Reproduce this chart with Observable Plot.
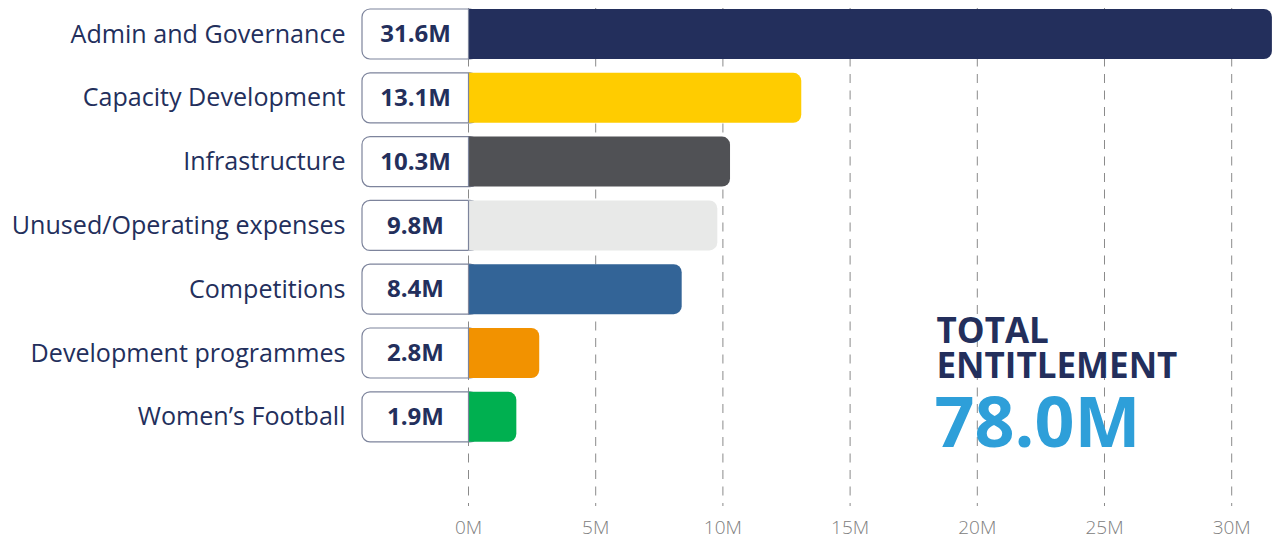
<!DOCTYPE html>
<html>
<head>
<meta charset="utf-8">
<script src="https://cdn.jsdelivr.net/npm/d3@7"></script>
<script src="https://cdn.jsdelivr.net/npm/@observablehq/plot@0.6"></script>
<style>
  html, body { margin: 0; padding: 0; background: #ffffff; }
  #chart { width: 1280px; height: 541px; overflow: hidden; }
  svg { font-family: "Open Sans", sans-serif; }
</style>
</head>
<body>
<div id="chart"></div>
<script>
const categories = [
  "Admin and Governance",
  "Capacity Development",
  "Infrastructure",
  "Unused/Operating expenses",
  "Competitions",
  "Development programmes",
  "Women\u2019s Football"
];
const values = [31.6, 13.1, 10.3, 9.8, 8.4, 2.8, 1.9];
const valueLabels = ["31.6M", "13.1M", "10.3M", "9.8M", "8.4M", "2.8M", "1.9M"];
const colors = ["#232f5c", "#ffcc00", "#505155", "#e8e9e8", "#336497", "#f29200", "#00b050"];
const xTicks = [0, 5, 10, 15, 20, 25, 30];
const totalTitle = ["TOTAL", "ENTITLEMENT"];
const totalValue = "78.0M";

const data = categories.map((c, i) => ({
  category: c, value: values[i], label: valueLabels[i], color: colors[i]
}));

const navy = "#232f5c";
const boxStroke = "#7d849c";

const chart = Plot.plot({
  width: 1280,
  height: 541,
  marginLeft: 468,
  marginRight: 8.1,
  marginTop: 8,
  marginBottom: 35,
  style: { fontFamily: "Open Sans, sans-serif", background: "#ffffff" },
  x: { domain: [0, 31.6], axis: null, label: null },
  y: {
    domain: categories,
    range: [2.1, 448.7],
    paddingInner: 0.216,
    paddingOuter: 0.108,
    round: false,
    axis: null,
    label: null
  },
  marks: [
    // dashed grid
    Plot.ruleX(xTicks, { x: d => d, stroke: "#8a8a8a", strokeWidth: 1, strokeDasharray: "9,7.5" }),
    // x tick labels
    Plot.axisX({
      ticks: xTicks, tickSize: 0, tickPadding: 14, tickFormat: d => d + "M",
      fontSize: 19, color: "#808080", fontWeight: 300, label: null
    }),
    // category labels
    Plot.axisY({
      tickSize: 0, tickPadding: 123, fontSize: 25.1, color: navy, label: null
    }),
    // label boxes (rounded left side, extends under bar)
    Plot.barX(data, {
      x1: 0, x2: 0, y: "category",
      insetLeft: -106, insetRight: -10,
      rx: 8, fill: "#ffffff", stroke: boxStroke, strokeWidth: 1.2
    }),
    // bars: rounded right end; left end clipped square at the frame edge
    Plot.barX(data, {
      x1: 0, x2: "value", y: "category", fill: "color",
      rx: 8, insetLeft: -12, clip: true
    }),
    // separator between box and bar
    Plot.tickX(data, { x: 0, y: "category", stroke: boxStroke, strokeWidth: 1.2 }),
    // value labels
    Plot.text(data, {
      x: 0, y: "category", text: "label", dx: -53,
      fontSize: 24, fontWeight: "bold", fill: navy
    }),
    // total annotation
    Plot.text([totalTitle[0]], {
      frameAnchor: "top-left", dx: 468, dy: 323.5, text: d => d,
      textAnchor: "start", lineAnchor: "middle",
      fontSize: 35, fontWeight: "bold", fill: navy, letterSpacing: "0.4px"
    }),
    Plot.text([totalTitle[1]], {
      frameAnchor: "top-left", dx: 468, dy: 358.5, text: d => d,
      textAnchor: "start", lineAnchor: "middle",
      fontSize: 35, fontWeight: "bold", fill: navy, letterSpacing: "0.4px"
    }),
    Plot.text([totalValue], {
      frameAnchor: "top-left", dx: 466, dy: 416.5, text: d => d,
      textAnchor: "start", lineAnchor: "middle",
      fontSize: 70, fontWeight: "bold", fill: "#2e9fd9"
    })
  ]
});

document.getElementById("chart").appendChild(chart);
</script>
</body>
</html>
